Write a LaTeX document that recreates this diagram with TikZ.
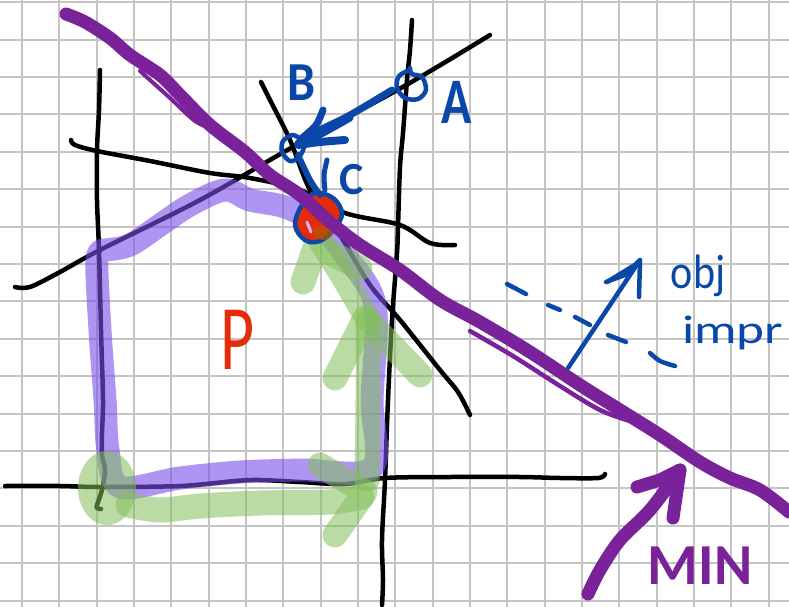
\documentclass[tikz,border=0pt]{standalone}
\usepackage{fontspec}
\setmainfont{Carlito}
\definecolor{gridc}{HTML}{C4C4C4}
\definecolor{pen}{HTML}{0A47A8}
\definecolor{pur}{HTML}{7A2299}
\definecolor{lav}{HTML}{7B4FEA}
\definecolor{grn}{HTML}{82C05A}
\definecolor{redf}{HTML}{E52C08}
\tikzset{
 x=1pt,y=-1pt,
 ink/.style={line cap=round,line join=round},
 blk/.style={ink,draw=black,line width=4.5pt},
 bluepen/.style={ink,draw=pen,line width=4.5pt},
 purplepen/.style={ink,draw=pur,line width=13pt},
 lavender/.style={ink,draw=lav,line width=23pt,opacity=.6},
 greenmark/.style={ink,draw=grn,line width=25pt,opacity=.55},
 lbl/.style={inner sep=0pt,outer sep=0pt,text=pen}
}
\newcommand{\stroke}[2]{\draw[#1] plot[smooth,tension=.55] coordinates {#2};}
\begin{document}
\begin{tikzpicture}
\useasboundingbox (0,0) rectangle (789,607);
\clip (0,0) rectangle (789,607);
\fill[white] (0,0) rectangle (789,607);
% grid
\foreach \i in {0,...,20} {\draw[gridc,line width=2pt] ({22+37.33*\i},0) -- ({22+37.33*\i},607);}
\foreach \i in {0,...,16} {\draw[gridc,line width=2pt] (0,{2.2+37.4*\i}) -- (789,{2.2+37.4*\i});}
% black construction lines
\stroke{blk}{(100,70)(99,110)(97,150)(97,200)(99,250)(101,330)(103,400)(102,433)(102,455)(105,470)(102,490)(97,505)(97,508)(101,509)}
\stroke{blk}{(5,486)(60,486)(100,487)(180,486)(235,481)(260,480)(300,482)(345,484)(385,478)(450,477)(520,477)(560,478)(598,478)(605,474)}
\stroke{blk}{(412,20)(410,50)(407,80)(403,133)(400,167)(398,227)(397,253)(392,320)(388,400)(385,480)(382,540)(383,580)(382,605)}
\stroke{blk}{(15,287)(30,287)(60,272)(100,250)(200,200)(291,148)(408,84)(490,35)}
\stroke{blk}{(71,140)(75,145)(97,151)(150,161)(210,173)(250,178)(300,190)(345,213)(400,225)(430,243)(455,245)}
\stroke{blk}{(261,82)(270,100)(290,140)(310,190)(340,235)(370,285)(400,320)(440,370)(458,392)(470,415)}
% feasible region, two routes
\stroke{lavender}{(105,250)(130,245)(160,225)(190,205)(225,190)(250,200)(285,207)(320,225)(345,255)(375,305)(372,400)(372,468)(300,470)(240,472)(180,478)(120,487)(108,450)(105,400)(100,330)(97,260)(105,250)}
\fill[grn,opacity=.55] (107,488) ellipse (29 and 37);
\stroke{greenmark}{(128,505)(160,510)(200,506)(260,503)(330,502)(362,497)}
\draw[greenmark] (320,465) -- (365,492) -- (335,535);
\stroke{greenmark}{(367,480)(368,400)(368,320)}
\draw[greenmark] (335,378) -- (365,318) -- (420,375);
\stroke{greenmark}{(368,320)(345,280)(320,240)}
\draw[greenmark] (303,282) -- (316,245) -- (360,268);
% optimum
\filldraw[bluepen,fill=redf] plot[smooth cycle,tension=.6] coordinates {(302,205)(295,225)(305,240)(320,241)(335,228)(342,213)(333,198)(315,193)};
\fill[orange!70!black,opacity=.7] (323,233) ellipse (10 and 7);
\draw[lav!40!white,line width=3pt,line cap=round] (307,222) -- (311,232);
% objective line
\stroke{purplepen}{(66,14)(85,22)(110,38)(130,55)(160,75)(180,95)(210,125)(245,152)(270,175)(300,195)(330,222)(360,245)(400,270)(440,300)(480,322)(530,352)(580,385)(620,410)(660,435)(700,462)(730,478)(760,490)(789,512)}
\stroke{purplepen,line width=4pt}{(140,71)(170,98)(195,121)(213,129)}
\stroke{purplepen,line width=4.5pt}{(470,331)(513,356)(560,386)(600,410)(630,421)}
% MIN arrow
\stroke{purplepen,line width=13pt}{(588,594)(600,570)(620,540)(650,510)(680,470)}
\draw[purplepen,line width=13pt] (637,487) -- (660,480) -- (680,470) -- (673,518);
% pen marks
\stroke{bluepen}{(410,70)(399,76)(397,88)(405,98)(418,99)(426,90)(422,77)(412,74)(410,68)}
\stroke{bluepen}{(292,135)(283,141)(282,152)(290,161)(299,157)(304,146)(298,137)(292,135)}
\stroke{bluepen,line width=7pt}{(392,90)(350,115)(320,130)(298,143)}
\stroke{bluepen,line width=7pt}{(350,118)(325,132)(305,142)}
\stroke{bluepen,line width=7pt}{(323,110)(316,125)(302,138)}
\stroke{bluepen,line width=8pt}{(345,140)(320,142)(298,145)}
\stroke{bluepen,line width=6pt}{(298,155)(310,180)(320,195)}
\stroke{bluepen,line width=5pt}{(327,160)(324,175)(325,190)}
\draw[bluepen] (568,368) -- (640,260);
\draw[bluepen] (606,282) -- (625,275) -- (640,260) -- (639,297);
\draw[bluepen] (607,282) -- (638,263);
\draw[bluepen] (507,284) -- (526,294);
\draw[bluepen] (548,305) -- (560,310);
\draw[bluepen] (575,317) -- (590,325);
\draw[bluepen] (608,335) -- (626,342);
\stroke{bluepen}{(650,353)(660,361)(675,366)}
% labels
\node[lbl,yscale=1.3,font=\bfseries\fontsize{50}{50}\selectfont] (labA) at (457,102) {A};
\node[lbl,yscale=1.1,font=\bfseries\fontsize{50}{50}\selectfont] (labB) at (302,83) {B};
\node[lbl,font=\bfseries\fontsize{46}{46}\selectfont] (labC) at (352,180) {C};
\node[lbl,text=redf,yscale=1.4,font=\fontsize{66}{66}\selectfont] (labP) at (238,340) {P};
\node[lbl,yscale=1.15,font=\fontsize{42}{42}\selectfont] (labObj) at (698,276) {obj};
\node[lbl,anchor=west,xscale=1.33,font=\fontsize{40}{40}\selectfont] (labImpr) at (682,333) {impr};
\node[lbl,text=pur,font=\bfseries\fontsize{58}{58}\selectfont] (labMin) at (700,566) {MIN};
\end{tikzpicture}
\end{document}
